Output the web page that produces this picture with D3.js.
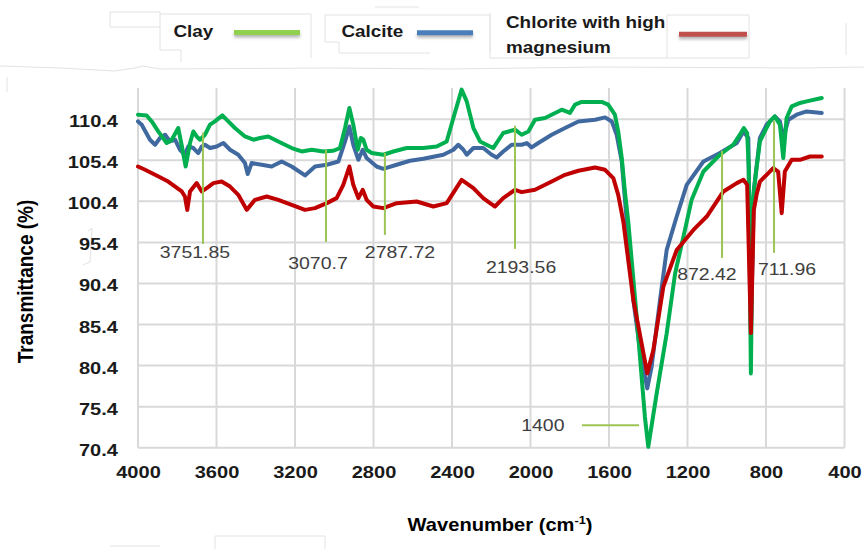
<!DOCTYPE html>
<html lang="en">
<head>
<meta charset="utf-8">
<title>FTIR spectra</title>
<script src="https://d3js.org/d3.v7.min.js"></script>
<style>
  body { margin: 0; background: #fff; }
  svg { display: block; }
</style>
</head>
<body>
<script type="text/javascript">

// wavenumber (cm-1), transmittance (%)
var clay = [[4000,110.95],[3956,110.86],[3930,110.13],[3897,108.91],[3854,107.5],[3828,107.9],[3795,109.33],
  [3778,107.29],[3757,104.64],[3735,107.5],[3718,108.91],[3701,108.3],[3684,107.9],[3659,108.51],[3633,109.73],
  [3608,110.13],[3570,110.86],[3540,110.13],[3506,109.33],[3455,108.3],[3412,107.9],[3378,108.11],[3336,108.3],
  [3285,107.69],[3217,106.89],[3166,106.47],[3115,106.68],[3056,106.47],[3005,106.56],[2971,106.89],[2945,109.33],
  [2923,111.77],[2903,109.73],[2880,106.68],[2865,108.11],[2852,107.9],[2835,106.68],[2809,106.28],[2750,106.07],
  [2699,106.47],[2631,106.89],[2546,106.89],[2478,107.08],[2427,107.69],[2393,110.55],[2351,114.0],[2325,112.57],
  [2291,109.33],[2257,107.69],[2206,107.08],[2190,106.89],[2139,108.72],[2079,109.12],[2045,108.51],[2011,108.91],
  [1977,110.34],[1926,110.55],[1841,111.56],[1799,111.16],[1773,112.17],[1739,112.5],[1637,112.5],[1604,112.17],
  [1570,110.95],[1553,108.91],[1535,105.67],[1519,101.6],[1502,97.94],[1459,86.35],[1417,74.15],[1400,70.5],
  [1357,77.01],[1306,84.33],[1263,91.64],[1213,96.92],[1179,100.58],[1119,104.03],[1035,106.07],[967,107.29],
  [933,108.51],[913,109.33],[896,108.72],[888,104.5],[877,79.45],[867,100.6],[848,104.45],[831,107.69],
  [806,108.91],[780,110.13],[755,110.74],[729,109.73],[712,105.67],[695,110.55],[669,111.96],[627,112.38],
  [593,112.57],[516,112.99]];

var calcite = [[4000,110.13],[3981,109.73],[3939,107.9],[3913,107.29],[3888,108.11],[3862,108.51],[3837,107.69],
  [3811,107.9],[3786,106.68],[3761,106.07],[3744,107.08],[3718,106.89],[3693,106.28],[3675,107.08],[3659,107.29],
  [3633,106.89],[3599,107.08],[3565,107.5],[3531,106.68],[3489,106.07],[3455,105.06],[3441,103.72],[3421,105.06],
  [3370,104.85],[3319,104.64],[3268,105.25],[3217,104.64],[3149,103.55],[3098,104.64],[3038,104.85],[2979,105.25],
  [2945,107.69],[2923,109.52],[2903,107.29],[2877,105.46],[2855,106.68],[2835,105.67],[2784,104.64],[2750,104.36],
  [2682,104.85],[2614,105.34],[2546,105.58],[2444,106.07],[2393,106.68],[2368,107.29],[2342,106.68],[2325,106.07],
  [2291,106.89],[2241,106.89],[2198,106.07],[2172,105.74],[2139,106.47],[2096,107.29],[2045,107.29],[2019,107.5],
  [1994,106.96],[1960,107.5],[1892,108.51],[1824,109.33],[1790,109.73],[1756,110.13],[1671,110.34],[1620,110.62],
  [1586,110.13],[1561,108.51],[1535,105.25],[1476,88.4],[1442,82.3],[1405,77.62],[1383,80.25],[1340,88.4],
  [1306,94.48],[1255,98.55],[1204,102.41],[1119,105.25],[1035,106.28],[949,107.5],[915,108.91],[890,108.11],
  [877,84.0],[862,101.8],[831,108.11],[797,109.73],[755,110.74],[729,110.13],[712,108.11],[686,110.34],
  [644,110.95],[593,111.35],[516,111.16]];

var chlorite = [[4000,104.64],[3964,104.24],[3913,103.63],[3846,102.81],[3777,101.6],[3761,100.99],[3749,99.36],
  [3735,101.6],[3701,102.62],[3675,101.6],[3650,102.01],[3616,102.62],[3574,102.81],[3531,102.2],[3489,101.19],
  [3446,99.36],[3404,100.58],[3344,100.99],[3285,100.58],[3217,99.97],[3149,99.36],[3098,99.57],[3038,100.18],
  [2988,100.79],[2954,102.41],[2923,104.64],[2903,102.41],[2877,100.79],[2855,101.8],[2835,100.58],[2801,99.77],
  [2750,99.57],[2682,100.18],[2580,100.38],[2495,99.77],[2427,100.18],[2351,103.02],[2291,102.01],[2241,100.79],
  [2206,100.18],[2181,99.77],[2139,100.79],[2079,101.8],[2045,101.52],[1977,101.8],[1892,102.81],[1824,103.63],
  [1756,104.12],[1671,104.52],[1620,104.24],[1578,103.23],[1553,101.19],[1527,97.94],[1476,88.4],[1405,79.45],
  [1374,82.29],[1323,90.01],[1255,94.48],[1170,96.92],[1102,98.55],[1017,101.6],[949,102.62],[915,103.02],
  [896,102.41],[877,84.37],[862,99.36],[848,101.19],[831,102.81],[797,103.63],[763,104.45],[738,104.03],
  [720,98.96],[704,104.03],[669,105.46],[627,105.46],[576,105.86],[516,105.86]];

var xTicks = [4000, 3600, 3200, 2800, 2400, 2000, 1600, 1200, 800, 400];
var yTicks = [70.4, 75.4, 80.4, 85.4, 90.4, 95.4, 100.4, 105.4, 110.4];

// peak labels: text, leader x, leader top/bottom, label position (data units)
var peakLabels = ["3751.85", "3070.7", "2787.72", "2193.56", "872.42", "711.96"];
var peakLines  = [[3669, 108.77, 95.22], [3042, 106.68, 95.46], [2742, 106.31, 96.31],
                  [2079, 109.61, 94.61], [1024, 106.56, 93.51], [759, 110.22, 94.12]];
var peakTextAt = [[3710, 94.24], [3083, 92.9], [2665, 94.24], [2048, 92.41], [1101, 91.56], [693, 92.17]];
var mainPeak = { label: "1400", from: 1738, to: 1447, value: 73.14, textAt: 1937 };

var w = 864, h = 549;
var stretch = 1.18; // the source picture is a bit wider than tall

var svg = d3.select("body").append("svg")
  .attr("width", w).attr("height", h)
  .style("font-family", "'Liberation Sans', Arial, sans-serif");

var x = d3.scaleLinear().domain([4000, 400]).range([138, 844.5]);
var y = d3.scaleLinear().domain([70.4, 114.2]).range([447.7, 88]);

var defs = svg.append("defs");
defs.append("filter").attr("id", "blur").attr("filterUnits", "userSpaceOnUse")
  .attr("x", 0).attr("y", 0).attr("width", w).attr("height", 80)
  .append("feGaussianBlur").attr("stdDeviation", 1.5);

// faint outlines left over from pasted legend boxes
var ghost = svg.append("g").attr("fill", "none").attr("stroke", "#e2e2e2").attr("stroke-width", 1);
["M110,12 H160 V14 H311 V58", "M110,12 V27 H160", "M160,14 V50 H181 V62",
 "M325,15 H490 V53", "M325,15 V42 H339 V53 H430", "M375,7 H419",
 "M490,13 V58 H667", "M667,15 H749 V58 H667 Z", "M846,23 V55",
 "M0,66 L60,68 L115,71 L135,68 L143,66 L160,69 L330,68 L450,69 L600,67 L800,68 L864,67",
 "M7,77 V92", "M88,231 L92,228 L90,262 L83,265", "M110,546 H160", "M215,549 V536 H325 V549"]
  .forEach(function(d) { ghost.append("path").attr("d", d); });

// grid
var grid = svg.append("g").attr("stroke", "#d9d9d9").attr("stroke-width", 2);
grid.selectAll("line.v").data(xTicks).enter().append("line")
  .attr("x1", function(d) { return x(d); }).attr("x2", function(d) { return x(d); })
  .attr("y1", y(114.2)).attr("y2", y(70.4));
grid.selectAll("line.h").data(yTicks).enter().append("line")
  .attr("x1", x(4000)).attr("x2", x(400))
  .attr("y1", function(d) { return y(d); }).attr("y2", function(d) { return y(d); });

// axes (labels only)
var yAxis = svg.append("g").attr("transform", "translate(" + x(4000) + ",0)")
  .call(d3.axisLeft(y).tickValues(yTicks).tickFormat(d3.format(".1f")).tickSize(0));
var xAxis = svg.append("g").attr("transform", "translate(0," + y(70.4) + ")")
  .call(d3.axisBottom(x).tickValues(xTicks).tickFormat(d3.format("d")).tickSize(0));
[yAxis, xAxis].forEach(function(a) {
  a.select(".domain").remove();
  a.selectAll("text").attr("font-family", null).attr("font-size", "17px")
    .attr("font-weight", "bold").attr("fill", "#1a1a1a").attr("x", 0).attr("y", 0).attr("dy", 0);
});
yAxis.selectAll("text").attr("text-anchor", "end")
  .attr("transform", "translate(-20,7.5) scale(" + stretch + ",1)");
xAxis.selectAll("text").attr("text-anchor", "middle")
  .attr("transform", "translate(0,30) scale(" + stretch + ",1)");

// spectra
var line = d3.line()
  .x(function(d) { return x(d[0]); })
  .y(function(d) { return y(d[1]); });

var series = [
  { data: calcite, color: "#40699f" },
  { data: clay, color: "#00b050" },
  { data: chlorite, color: "#c00000" }
];
svg.selectAll("path.spec").data(series).enter().append("path")
  .attr("class", "spec")
  .attr("d", function(d) { return line(d.data); })
  .attr("fill", "none")
  .attr("stroke", function(d) { return d.color; })
  .attr("stroke-width", 4)
  .attr("stroke-linejoin", "round")
  .attr("stroke-linecap", "round");

// peak annotations
var ann = svg.append("g");
ann.selectAll("line").data(peakLines).enter().append("line")
  .attr("x1", function(d) { return x(d[0]); }).attr("x2", function(d) { return x(d[0]); })
  .attr("y1", function(d) { return y(d[1]); }).attr("y2", function(d) { return y(d[2]); })
  .attr("stroke", "#9cc556").attr("stroke-width", 2);
ann.selectAll("text").data(peakLabels).enter().append("text")
  .text(function(d) { return d; })
  .attr("text-anchor", "middle")
  .attr("transform", function(d, i) {
    return "translate(" + x(peakTextAt[i][0]) + "," + (y(peakTextAt[i][1]) + 6) + ") scale(" + stretch + ",1)";
  })
  .attr("font-size", "16.5px").attr("fill", "#404040");

ann.append("line")
  .attr("x1", x(mainPeak.from)).attr("x2", x(mainPeak.to))
  .attr("y1", y(mainPeak.value)).attr("y2", y(mainPeak.value))
  .attr("stroke", "#9cc556").attr("stroke-width", 2);
ann.append("text").text(mainPeak.label)
  .attr("text-anchor", "middle")
  .attr("transform", "translate(" + x(mainPeak.textAt) + "," + (y(mainPeak.value) + 6) + ") scale(" + stretch + ",1)")
  .attr("font-size", "16.5px").attr("fill", "#404040");

// axis titles
svg.append("text").text("Transmittance (%)")
  .attr("text-anchor", "middle")
  .attr("transform", "translate(33,281.5) scale(" + stretch + ",1) rotate(-90)")
  .attr("font-size", "19px").attr("font-weight", "bold").attr("fill", "#000");

var xt = svg.append("text")
  .attr("text-anchor", "middle")
  .attr("transform", "translate(500,531) scale(1.15,1)")
  .attr("font-size", "17.5px").attr("font-weight", "bold").attr("fill", "#000");
xt.append("tspan").text("Wavenumber (cm");
xt.append("tspan").text("-1").attr("font-size", "11px").attr("dy", -7);
xt.append("tspan").text(")").attr("dy", 7);

// legend
var legendNames = ["Clay", "Calcite"];
var legendColors = ["#92d050", "#4a7ebb", "#c0504d"];
var legendSwatches = [[234, 300, 32.5], [417, 473, 32.7], [679, 747, 34.3]];
var legend = svg.append("g").attr("font-size", "16px").attr("font-weight", "bold").attr("fill", "#1a1a1a");
legend.selectAll("text.n").data(legendNames).enter().append("text")
  .text(function(d) { return d; })
  .attr("transform", function(d, i) {
    return "translate(" + [173.5, 341.5][i] + ",37) scale(" + stretch + ",1)";
  });
legend.append("text").text("Chlorite with high")
  .attr("transform", "translate(506,28) scale(" + stretch + ",1)");
legend.append("text").text("magnesium")
  .attr("transform", "translate(506,52.5) scale(" + stretch + ",1)");
legend.selectAll("line.sh").data(legendSwatches).enter().append("line")
  .attr("x1", function(d) { return d[0]; }).attr("x2", function(d) { return d[1]; })
  .attr("y1", function(d) { return d[2] + 2.5; }).attr("y2", function(d) { return d[2] + 2.5; })
  .attr("stroke", "#777").attr("stroke-opacity", 0.55).attr("stroke-width", 5)
  .attr("filter", "url(#blur)");
legend.selectAll("line.sw").data(legendSwatches).enter().append("line")
  .attr("x1", function(d) { return d[0]; }).attr("x2", function(d) { return d[1]; })
  .attr("y1", function(d) { return d[2]; }).attr("y2", function(d) { return d[2]; })
  .attr("stroke", function(d, i) { return legendColors[i]; })
  .attr("stroke-width", 5);

</script>
</body>
</html>
